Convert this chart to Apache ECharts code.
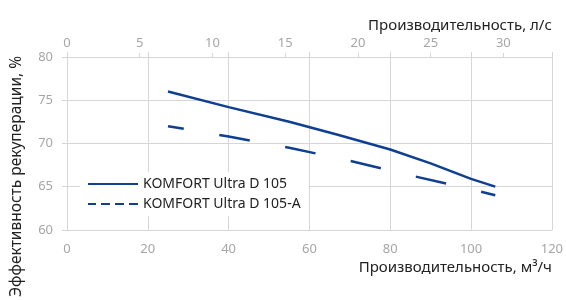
<!DOCTYPE html>
<html>
<head>
<meta charset="utf-8">
<script src="https://cdn.jsdelivr.net/npm/echarts@6/dist/echarts.min.js"></script>
<style>
  html, body { margin: 0; padding: 0; background: #fff; }
  #chart { width: 566px; height: 300px; }
</style>
</head>
<body>
<div id="chart"></div>
<script>
const seriesNames = ['KOMFORT Ultra D 105', 'KOMFORT Ultra D 105-A']
const flowSolid = [25, 40, 55, 67, 80, 90, 100, 106]
const effSolid = [76.0, 74.2, 72.5, 71.0, 69.3, 67.7, 65.9, 65.0]
const flowDashed = [25, 40, 55, 70, 85, 100, 106]
const effDashed = [72.0, 70.8, 69.5, 68.0, 66.3, 64.7, 64.0]

const lineColor = '#0f3f93'
const gridColor = '#d6d6d6'
const labelColor = '#a6a6a6'
const font = 'Noto Sans'

const pairs = (xs, ys) => xs.map((x, i) => [x, ys[i]])

const chart = echarts.init(document.getElementById('chart'))
const option = {
  animation: false,
  textStyle: { fontFamily: font },
  grid: { left: 67, right: 13, top: 57, bottom: 68 },
  legend: {
    orient: 'vertical',
    left: 80,
    top: 172,
    padding: [5, 8, 5, 7],
    itemGap: 6,
    itemWidth: 50,
    itemHeight: 14,
    backgroundColor: '#fff',
    itemStyle: { opacity: 0 },
    textStyle: { fontSize: 14, color: '#222', fontFamily: font },
    data: [
      { name: seriesNames[0] },
      { name: seriesNames[1], lineStyle: { type: [9, 5] } }
    ]
  },
  xAxis: [
    {
      type: 'value',
      position: 'bottom',
      min: 0,
      max: 120,
      interval: 20,
      name: 'Производительность, м³/ч',
      nameLocation: 'end',
      nameGap: 0,
      nameTextStyle: { fontSize: 15, color: '#222', align: 'right', verticalAlign: 'top', padding: [30, 0, 0, 0] },
      axisLine: { show: true, lineStyle: { color: gridColor } },
      axisTick: { show: false },
      axisLabel: { color: labelColor, fontSize: 13, margin: 13 },
      splitLine: { show: true, lineStyle: { color: gridColor } }
    },
    {
      type: 'value',
      position: 'top',
      min: 0,
      max: 120 / 3.6,
      interval: 5,
      name: 'Производительность, л/с',
      nameLocation: 'end',
      nameGap: 0,
      nameTextStyle: { fontSize: 15, color: '#222', align: 'right', verticalAlign: 'bottom', padding: [0, 0, 24, 0] },
      axisLine: { show: true, lineStyle: { color: gridColor } },
      axisTick: { show: true, length: 4, lineStyle: { color: gridColor } },
      axisLabel: { color: labelColor, fontSize: 13, margin: 7, showMaxLabel: false },
      splitLine: { show: false }
    },
    {
      type: 'value',
      position: 'top',
      min: 0,
      max: 120,
      interval: 20,
      axisLine: { show: false },
      axisTick: { show: true, length: 5, lineStyle: { color: gridColor } },
      axisLabel: { show: false },
      splitLine: { show: false }
    }
  ],
  yAxis: {
    type: 'value',
    min: 60,
    max: 80,
    interval: 5,
    name: 'Эффективность рекуперации, %',
    nameLocation: 'middle',
    nameGap: 42,
    nameTextStyle: { fontSize: 15.5, color: '#222', padding: [0, 66, 0, 0] },
    axisLine: { show: true, lineStyle: { color: gridColor } },
    axisTick: { show: true, length: 5, lineStyle: { color: gridColor } },
    axisLabel: { color: labelColor, fontSize: 13, margin: 14 },
    splitLine: { show: true, lineStyle: { color: gridColor } }
  },
  series: [
    {
      name: seriesNames[0],
      type: 'line',
      xAxisIndex: 0,
      symbol: 'none',
      lineStyle: { color: lineColor, width: 2.5 },
      itemStyle: { color: lineColor },
      data: pairs(flowSolid, effSolid)
    },
    {
      name: seriesNames[1],
      type: 'line',
      xAxisIndex: 0,
      symbol: 'none',
      lineStyle: { color: lineColor, width: 2.5, type: [31, 36], dashOffset: 15 },
      itemStyle: { color: lineColor },
      data: pairs(flowDashed, effDashed)
    }
  ]
}
chart.setOption(option)
</script>
</body>
</html>
